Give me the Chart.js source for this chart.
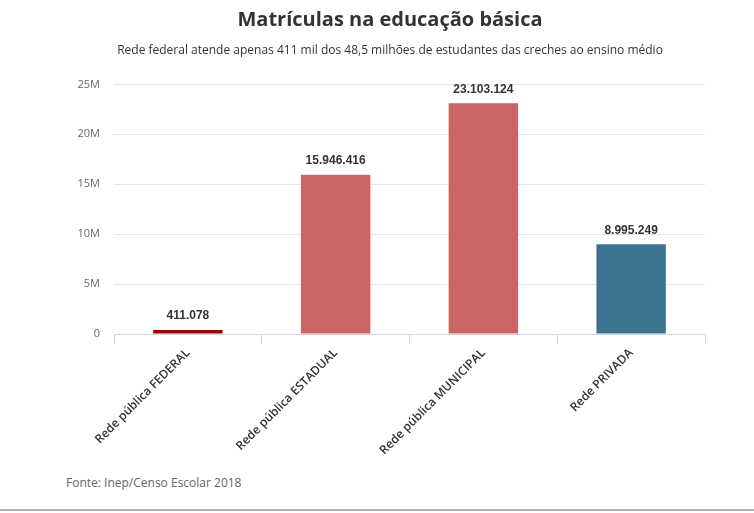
<!DOCTYPE html>
<html>
<head>
<meta charset="utf-8">
<script src="https://cdn.jsdelivr.net/npm/chart.js@4"></script>
<style>
  html, body { margin: 0; padding: 0; background: #fff; overflow: hidden; }
  #wrap { position: relative; width: 780px; height: 460px; }
  #source { position: absolute; left: 66px; top: 474px; font: 12px "Open Sans", sans-serif; color: #666; }
  #rule { position: absolute; left: 0; top: 509px; width: 754px; height: 2px; background: #b0b0b0; }
</style>
</head>
<body>
<div id="wrap"><canvas id="chart"></canvas></div>
<div id="source">Fonte: Inep/Censo Escolar 2018</div>
<div id="rule"></div>
<script>
const categories = ["Rede pública FEDERAL", "Rede pública ESTADUAL", "Rede pública MUNICIPAL", "Rede PRIVADA"];
const enrollments = [411078, 15946416, 23103124, 8995249];
const barColors = ["#a30000", "#cb6464", "#cb6464", "#3d7590"];
const yTicks = [0, 5000000, 10000000, 15000000, 20000000, 25000000];

function fmt(n) {
  return String(n).replace(/\B(?=(\d{3})+(?!\d))/g, ".");
}

const valueLabels = {
  id: "valueLabels",
  afterDatasetsDraw(chart) {
    const ctx = chart.ctx;
    const meta = chart.getDatasetMeta(0);
    ctx.save();
    ctx.font = "bold 12px 'Liberation Sans', Arial, sans-serif";
    ctx.fillStyle = "#333";
    ctx.textAlign = "center";
    ctx.textBaseline = "bottom";
    meta.data.forEach((bar, i) => {
      ctx.fillText(fmt(enrollments[i]), bar.x, bar.y - 8);
    });
    ctx.restore();
  }
};

new Chart(document.getElementById("chart"), {
  type: "bar",
  data: {
    labels: categories,
    datasets: [{
      data: enrollments,
      backgroundColor: barColors,
      barPercentage: 0.47,
      categoryPercentage: 1
    }]
  },
  options: {
    responsive: true,
    maintainAspectRatio: false,
    animation: false,
    layout: { padding: 0 },
    plugins: {
      legend: { display: false },
      tooltip: { enabled: false },
      title: {
        display: true,
        text: "Matrículas na educação básica",
        color: "#333",
        font: { family: "'Open Sans'", size: 20, weight: "bold" },
        padding: { top: 8, bottom: 6 }
      },
      subtitle: {
        display: true,
        text: "Rede federal atende apenas 411 mil dos 48,5 milhões de estudantes das creches ao ensino médio",
        color: "#333",
        font: { family: "'Open Sans'", size: 12 },
        padding: { top: 5, bottom: 27 }
      }
    },
    scales: {
      x: {
        offset: true,
        grid: { display: true, drawOnChartArea: false, offset: true, color: "#ccd6eb", tickLength: 10 },
        border: { color: "#ccd6eb" },
        ticks: {
          color: "#333",
          font: { family: "'Open Sans'", size: 12, weight: "600" },
          minRotation: 45,
          maxRotation: 45,
          padding: 2
        },
        afterFit(scale) { scale.height = 126; }
      },
      y: {
        min: 0,
        max: 25000000,
        afterBuildTicks(scale) { scale.ticks = yTicks.map(v => ({ value: v })); },
        grid: { color: "#e6e6e6", drawTicks: false },
        border: { display: false },
        ticks: {
          color: "#666",
          font: { family: "'Open Sans'", size: 11 },
          padding: 14,
          callback: v => v === 0 ? "0" : (v / 1000000) + "M"
        },
        afterFit(scale) { scale.width = 114; }
      },
      spacer: {
        position: "right",
        display: true,
        grid: { display: false },
        border: { display: false },
        ticks: { display: false },
        afterFit(scale) { scale.width = 75; }
      }
    }
  },
  plugins: [valueLabels]
});
</script>
</body>
</html>
